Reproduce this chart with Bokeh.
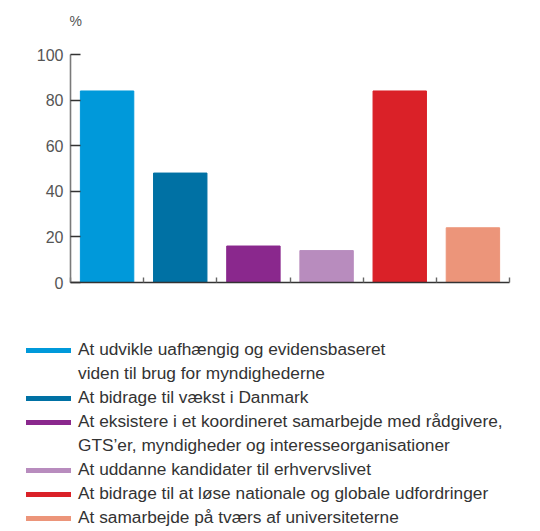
from bokeh.plotting import figure
from bokeh.models import Legend, LegendItem, FixedTicker, ColumnDataSource, Range1d, Title
from bokeh.layouts import column, row
from bokeh.embed import file_html
from bokeh.resources import INLINE

categories = [
    "At udvikle uafhængig og evidensbaseret\nviden til brug for myndighederne",
    "At bidrage til vækst i Danmark",
    "At eksistere i et koordineret samarbejde med rådgivere,\nGTS’er, myndigheder og interesseorganisationer",
    "At uddanne kandidater til erhvervslivet",
    "At bidrage til at løse nationale og globale udfordringer",
    "At samarbejde på tværs af universiteterne",
]
values = [84, 48, 16, 14, 84, 24]
colors = ["#0099da", "#0071a4", "#8a288d", "#b88cbe", "#da2128", "#ec957a"]
y_ticks = [0, 20, 40, 60, 80, 100]
unit_label = "%"

FONT = "Liberation Sans"

n = len(categories)
positions = [i + 0.5 for i in range(n)]
source = ColumnDataSource(dict(x=positions, top=values, color=colors))

p = figure(width=540, height=290, output_backend="svg", toolbar_location=None,
           x_range=Range1d(0, n), y_range=Range1d(0, 100),
           min_border_left=70, min_border_right=31, min_border_top=53, min_border_bottom=8)
p.outline_line_color = None
p.grid.visible = False
p.background_fill_color = None
p.border_fill_color = "white"

# spacer title (closest to frame), then the unit title above it
p.add_layout(Title(text=" ", text_font=FONT, text_font_size="11px", standoff=2), "above")
p.add_layout(Title(text=unit_label, text_font=FONT, text_font_size="14px",
                   text_font_style="normal", text_color="#555555",
                   align="left", offset=-1, standoff=20), "above")

p.vbar(x="x", top="top", width=0.73, bottom=0, color="color", source=source)

# y axis
ya = p.yaxis[0]
ya.ticker = FixedTicker(ticks=y_ticks)
ya.axis_line_color = "#7a7a7a"
ya.axis_line_width = 1.6
ya.major_tick_line_color = "#333333"
ya.major_tick_line_width = 1.4
ya.major_tick_in = 10
ya.major_tick_out = 0
ya.minor_tick_line_color = None
ya.major_label_standoff = 7
ya.major_label_text_font = FONT
ya.major_label_text_font_size = "16px"
ya.major_label_text_color = "#555555"

# x axis
xa = p.xaxis[0]
xa.ticker = FixedTicker(ticks=list(range(0, n + 1)))
xa.axis_line_color = "#333333"
xa.axis_line_width = 1.6
xa.major_tick_line_color = "#666666"
xa.major_tick_line_width = 1.4
xa.major_tick_in = 5
xa.major_tick_out = 0
xa.minor_tick_line_color = None
xa.major_label_text_font_size = "0px"
xa.major_label_text_color = None

# legend figure
q = figure(width=540, height=241, output_backend="svg", toolbar_location=None,
           x_range=Range1d(0, 1), y_range=Range1d(0, 1),
           x_axis_location=None, y_axis_location=None,
           min_border_left=0, min_border_right=0, min_border_top=0, min_border_bottom=0)
q.outline_line_color = None
q.grid.visible = False
q.border_fill_color = "white"
q.background_fill_color = None

nan = float("nan")
items = []
for cat, col in zip(categories, colors):
    lines = cat.split("\n")
    r = q.line(x=[nan], y=[nan], line_color=col, line_width=5, line_cap="round")
    items.append(LegendItem(label=lines[0], renderers=[r]))
    for extra in lines[1:]:
        r2 = q.line(x=[nan], y=[nan], line_alpha=0)
        items.append(LegendItem(label=extra, renderers=[r2]))

legend = Legend(items=items, location=(26, 3), orientation="vertical",
                glyph_width=45, glyph_height=20, label_height=20, spacing=3,
                label_standoff=7, padding=0, margin=0,
                border_line_color=None, background_fill_alpha=0,
                label_text_font=FONT, label_text_font_size="17.3px",
                label_text_color="#333333")
q.add_layout(legend, "center")

layout = column(p, row(q, spacing=0), spacing=0)
open("out.html", "w").write(file_html(layout, INLINE))
